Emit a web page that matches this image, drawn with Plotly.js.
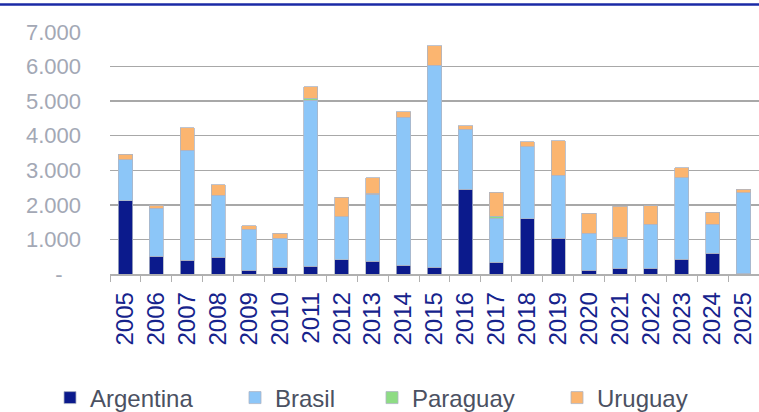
<!DOCTYPE html>
<html>
<head>
<meta charset="utf-8">
<script src="https://cdn.plot.ly/plotly-3.0.1.min.js"></script>
<style>html,body{margin:0;padding:0;background:#fff;}#chart{width:759px;height:412px;}</style>
</head>
<body>
<div id="chart"></div>
<script>
const years = ["2005","2006","2007","2008","2009","2010","2011","2012","2013","2014","2015","2016","2017","2018","2019","2020","2021","2022","2023","2024","2025"];
const argentina = [2120, 520, 400, 480, 115, 195, 230, 415, 375, 260, 195, 2450, 340, 1600, 1040, 115, 165, 165, 425, 600, 10];
const brasil    = [1180, 1380, 3180, 1800, 1180, 840, 4800, 1240, 1925, 4270, 5845, 1740, 1270, 2080, 1820, 1060, 865, 1280, 2360, 845, 2340];
const paraguay  = [0, 0, 0, 0, 0, 0, 50, 0, 20, 0, 0, 0, 65, 0, 0, 0, 30, 0, 0, 0, 0];
const uruguay   = [160, 90, 655, 300, 100, 145, 340, 560, 470, 160, 560, 100, 685, 145, 995, 580, 900, 530, 295, 335, 100];
const yTickVals = [0, 1000, 2000, 3000, 4000, 5000, 6000, 7000];
const yTickText = ["-\u00a0\u00a0\u00a0", "1.000", "2.000", "3.000", "4.000", "5.000", "6.000", "7.000"];

const W = 759, H = 412, ML = 110, MR = 0, MT = 32, MB = 138;
const PW = W - ML - MR, PH = H - MT - MB;
const px = x => (x - ML) / PW;
const py = y => (H - MB - y) / PH;

const outline = {color: "#aeb5c4", width: 0.8};
function bar(name, vals, color, leg) {
  return {type: "bar", name: name, x: years, y: vals, legend: leg,
    marker: {color: color, line: outline}, hoverinfo: "skip"};
}
const data = [
  bar("Argentina", argentina, "#0b1a8c", "legend"),
  bar("Brasil", brasil, "#8cc6f8", "legend2"),
  bar("Paraguay", paraguay, "#8edc84", "legend3"),
  bar("Uruguay", uruguay, "#fbb570", "legend4")
];
const legFont = {family: "Liberation Sans, Arial, sans-serif", size: 24, color: "#4b5162"};
function leg(xpix) {
  return {orientation: "h", x: px(xpix), xanchor: "left", y: py(398), yanchor: "middle",
    font: legFont, bgcolor: "rgba(0,0,0,0)", borderwidth: 0, itemclick: false};
}
const layout = {
  width: W, height: H,
  margin: {l: ML, r: MR, t: MT, b: MB, pad: 0, autoexpand: false},
  paper_bgcolor: "#fff", plot_bgcolor: "#fff",
  barmode: "stack", bargap: 0.54,
  font: {family: "Liberation Sans, Arial, sans-serif"},
  xaxis: {type: "category", tickangle: -90, tickson: "boundaries", automargin: false,
    ticks: "outside", ticklen: 6, tickcolor: "#b0b0b0", tickwidth: 1,
    showline: true, linecolor: "#b0b0b0", linewidth: 1.5,
    showgrid: false, ticklabelstandoff: 7,
    tickfont: {family: "Liberation Sans, Arial, sans-serif", size: 24, color: "#16238c"}},
  yaxis: {range: [0, 7000], tickvals: yTickVals, ticktext: yTickText, automargin: false,
    showgrid: true, gridcolor: "#a8a8a8", gridwidth: 1.5, zeroline: false,
    showline: false, ticks: "", ticklabelstandoff: 28,
    tickfont: {family: "Liberation Sans, Arial, sans-serif", size: 22, color: "#a3a8b5"}},
  showlegend: true,
  legend: leg(50), legend2: leg(235), legend3: leg(372), legend4: leg(557),
  shapes: [{type: "line", xref: "paper", yref: "paper", x0: px(0), x1: px(759), y0: py(4.5), y1: py(4.5),
    line: {color: "#1a2aa6", width: 2.5}}]
};
Plotly.newPlot("chart", data, layout, {staticPlot: true, displayModeBar: false});
</script>
</body>
</html>
